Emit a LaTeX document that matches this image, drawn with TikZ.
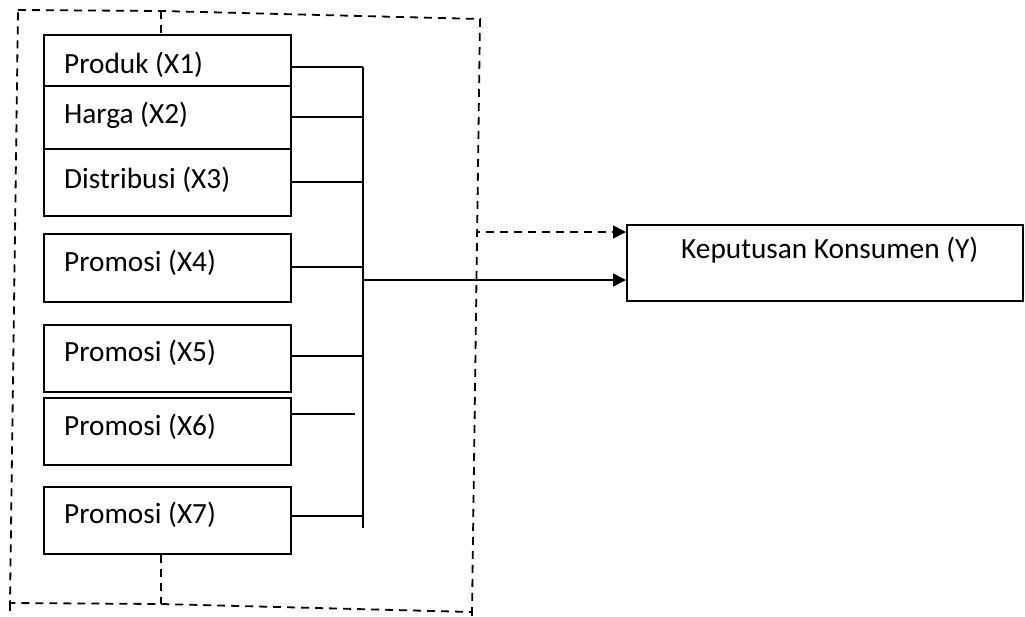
\documentclass[tikz,border=0pt]{standalone}
\usepackage{fontspec}
\setmainfont{Carlito}
\usetikzlibrary{arrows.meta,calc}
\begin{document}
\begin{tikzpicture}[x=1pt,y=-1pt,
  box/.style={draw,line width=2pt,rectangle,anchor=north west,inner sep=0pt},
  lbl/.style={anchor=west,inner sep=0pt,font=\fontsize{29.3}{34}\selectfont},
  wire/.style={line width=1.8pt},
  dline/.style={line width=1.8pt,dash pattern=on 8pt off 6pt},
  tip/.style={-{Triangle[length=13pt,width=13pt]}}]
\useasboundingbox (0,0) rectangle (1025,616);

% left block of variables
\node[box,minimum width=247pt,minimum height=51pt] (x1) at (43,34) {};
\node[box,minimum width=247pt,minimum height=63pt] (x2) at (43,85) {};
\node[box,minimum width=247pt,minimum height=67pt] (x3) at (43,148) {};
\node[box,minimum width=247pt,minimum height=68pt] (x4) at (43,233) {};
\node[box,minimum width=247pt,minimum height=67pt] (x5) at (43,324) {};
\node[box,minimum width=247pt,minimum height=67pt] (x6) at (43,397) {};
\node[box,minimum width=247pt,minimum height=67pt] (x7) at (43,486) {};

\node[lbl] (t1) at (64,65) {Produk (X1)};
\node[lbl] (t2) at (64,115) {Harga (X2)};
\node[lbl] (t3) at (64,180) {Distribusi (X3)};
\node[lbl] (t4) at (64,263) {Promosi (X4)};
\node[lbl] (t5) at (64,353) {Promosi (X5)};
\node[lbl] (t6) at (64,427) {Promosi (X6)};
\node[lbl] (t7) at (64,515) {Promosi (X7)};

% dependent variable
\node[box,minimum width=396pt,minimum height=76pt] (y) at (626,224) {};
\node[lbl] (ty) at (681,250) {Keputusan Konsumen (Y)};

% collecting bus
\coordinate (c1) at (363,67);
\coordinate (c2) at (363,117);
\coordinate (c3) at (363,182);
\coordinate (c4) at (363,267);
\coordinate (c5) at (363,356);
\coordinate (c6) at (355,414);
\coordinate (c7) at (363,516);
\coordinate (cm) at (363,280);
\coordinate (cb) at (363,528);

\draw[wire] (c1) -- (cb);
\draw[wire] (x1.east |- c1) -- (c1);
\draw[wire] (x2.east |- c2) -- (c2);
\draw[wire] (x3.east |- c3) -- (c3);
\draw[wire] (x4.east |- c4) -- (c4);
\draw[wire] (x5.east |- c5) -- (c5);
\draw[wire] (x6.east |- c6) -- (c6);
\draw[wire] (x7.east |- c7) -- (c7);
\draw[wire,tip] (cm) -- (y.west |- cm);

% dashed frame around the independent variables
\coordinate (fa) at (18,10);
\coordinate (fb) at (161,11);
\coordinate (fc) at (480,19);
\coordinate (fd) at (472,612);
\coordinate (fe) at (161,604);
\coordinate (ff) at (10,603);
\draw[dline] (fa) -- (fb) -- (fc) -- (fd) -- (fe) -- (ff) -- (fa);
\draw[dline] (ff) -- (10,616);
\draw[dline] (fd) -- (472,616);
\draw[dline] (fb) -- (x1.north -| fb);
\draw[dline] (x7.south -| fe) -- (fe);

% dashed joint influence arrow
\coordinate (ds) at (477,237);
\coordinate (dk) at (477,232);
\draw[dline,tip] (ds) -- (dk) -- (y.west |- dk);
\end{tikzpicture}
\end{document}
